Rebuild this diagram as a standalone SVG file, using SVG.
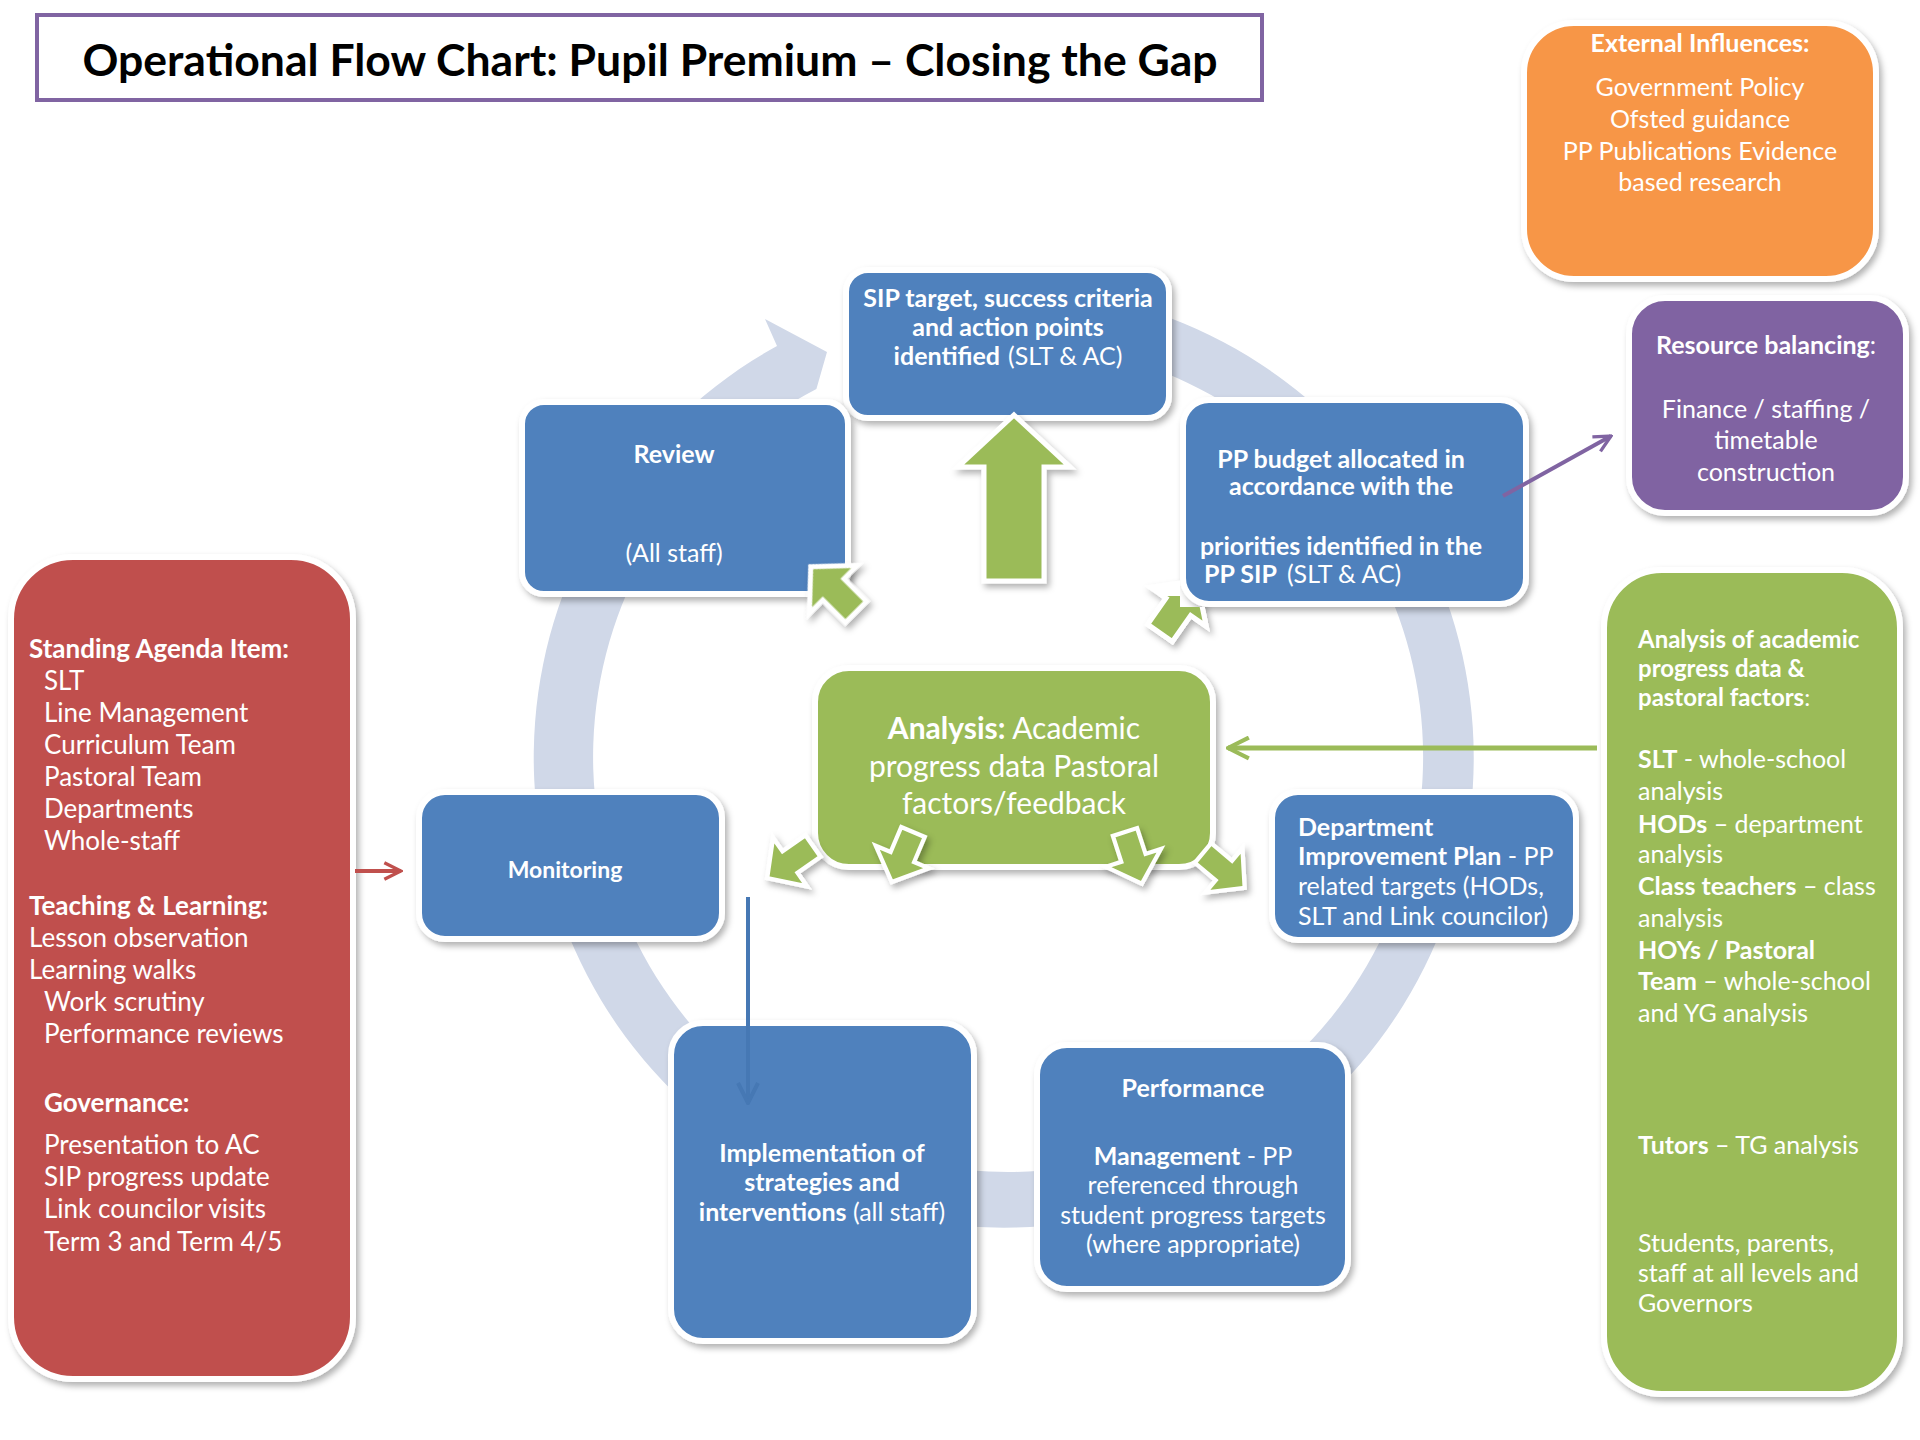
<svg xmlns="http://www.w3.org/2000/svg" width="1920" height="1440" viewBox="0 0 1920 1440">
<style>
text{font-family:Lato,'Open Sans','Liberation Sans',sans-serif;fill:#fff;font-size:25px}
.c{text-anchor:middle}
.b{font-weight:bold}
.box{stroke:#fff;stroke-width:6;filter:url(#sh)}
.blue{fill:#4F81BD}
.grn{fill:#9BBB59}
.red{fill:#C0504D}
.org{fill:#F79646}
.pur{fill:#8064A2}
.blk{fill:#9BBB59;stroke:#fff;stroke-width:5}
.ring{fill:#D0D8E8}
.big{font-size:26px}
</style>
<defs>
<filter id="sh" x="-15%" y="-15%" width="140%" height="140%">
<feDropShadow dx="3" dy="4" stdDeviation="3" flood-color="#000" flood-opacity="0.3"/>
</filter>
<path id="blkArrow" d="M0,-15 L32,-15 L32,-34 L64,0 L32,34 L32,15 L0,15 Z"/>
<marker id="mRed" viewBox="0 0 12 12" refX="11" refY="6" markerWidth="5" markerHeight="5" orient="auto"><path d="M1,1 L11,6 L1,11" fill="none" stroke="#C0504D" stroke-width="2"/></marker>
<marker id="mPur" viewBox="0 0 12 12" refX="11" refY="6" markerWidth="5" markerHeight="5" orient="auto"><path d="M1,1 L11,6 L1,11" fill="none" stroke="#8064A2" stroke-width="2"/></marker>
<marker id="mGrn" viewBox="0 0 12 12" refX="11" refY="6" markerWidth="5" markerHeight="5" orient="auto"><path d="M1,1 L11,6 L1,11" fill="none" stroke="#9BBB59" stroke-width="2"/></marker>
<marker id="mBlu" viewBox="0 0 12 12" refX="11" refY="6" markerWidth="6" markerHeight="6" orient="auto"><path d="M1,1 L11,6 L1,11" fill="none" stroke="#4678B4" stroke-width="2"/></marker>
<clipPath id="outPP"><path clip-rule="evenodd" d="M0,0 H1920 V1440 H0 Z M1180,397 H1529 V607 H1180 Z"/></clipPath>
<clipPath id="lowPP"><rect x="0" y="596" width="1920" height="844"/></clipPath>
</defs>
<rect width="1920" height="1440" fill="#fff"/>

<g id="cycle-ring">
<path class="ring" d="M777,346 L765,319 L827,352 L816.4,388.9 A415,415 0 1 0 935.9,348.3 L926.4,294.1 A470,470 0 1 1 777,346 Z"/>
</g>

<g id="title">
<rect x="37" y="15" width="1225" height="85" fill="#fff" stroke="#8064A2" stroke-width="4"/>
<text x="650" y="76" class="c b" style="font-size:44.5px;fill:#000">Operational Flow Chart: Pupil Premium – Closing the Gap</text>
</g>

<g id="external-influences">
<rect class="box org" x="1524" y="23" width="352" height="256" rx="50"/>
<text class="c"><tspan x="1700" y="52" class="b">External Influences:</tspan><tspan x="1700" y="96">Government Policy</tspan><tspan x="1700" y="128">Ofsted guidance</tspan><tspan x="1700" y="160">PP Publications Evidence</tspan><tspan x="1700" y="191">based research</tspan></text>
</g>

<g id="resource-balancing">
<rect class="box pur" x="1629" y="298" width="277" height="215" rx="36"/>
<text class="c"><tspan x="1766" y="354"><tspan class="b">Resource balancing</tspan>:</tspan><tspan x="1766" y="418">Finance / staffing /</tspan><tspan x="1766" y="449">timetable</tspan><tspan x="1766" y="481">construction</tspan></text>
</g>

<g id="sip-target">
<rect class="box blue" x="846" y="270" width="323" height="148" rx="22"/>
<text class="c"><tspan x="1008" y="307" class="b">SIP target, success criteria</tspan><tspan x="1008" y="336" class="b">and action points</tspan><tspan x="1008" y="365"><tspan class="b">identified</tspan><tspan dx="8">(SLT &amp; AC)</tspan></tspan></text>
</g>

<g id="review">
<rect class="box blue" x="522" y="402" width="326" height="192" rx="22"/>
<text x="674" y="463" class="c b">Review</text>
<text x="674" y="562" class="c">(All staff)</text>
</g>

<g id="pp-budget">
<rect class="box blue" x="1183" y="400" width="343" height="204" rx="26"/>
<text class="c b"><tspan x="1341" y="468">PP budget allocated in</tspan><tspan x="1341" y="495">accordance with the</tspan></text>
<text><tspan x="1341" y="555" class="c b">priorities identified in the</tspan><tspan x="1204" y="583" class="b">PP SIP</tspan><tspan dx="10">(SLT &amp; AC)</tspan></text>
</g>

<g id="monitoring">
<rect class="box blue" x="419" y="792" width="303" height="147" rx="26"/>
<text x="565" y="878" class="c b" style="font-size:23px">Monitoring</text>
</g>

<g id="department-improvement-plan">
<rect class="box blue" x="1272" y="792" width="304" height="148" rx="26"/>
<text><tspan x="1298" y="836" class="b">Department</tspan><tspan x="1298" y="865"><tspan class="b">Improvement Plan</tspan> - PP</tspan><tspan x="1298" y="895">related targets (HODs,</tspan><tspan x="1298" y="925">SLT and Link councilor)</tspan></text>
</g>

<g id="implementation">
<rect class="box blue" x="671" y="1023" width="303" height="318" rx="32"/>
<text class="c"><tspan x="822" y="1162" class="b">Implementation of</tspan><tspan x="822" y="1191" class="b">strategies and</tspan><tspan x="822" y="1221"><tspan class="b">interventions</tspan> (all staff)</tspan></text>
</g>

<g id="performance-management">
<rect class="box blue" x="1037" y="1045" width="311" height="244" rx="30"/>
<text x="1193" y="1097" class="c b">Performance</text>
<text class="c"><tspan x="1193" y="1165"><tspan class="b">Management</tspan> - PP</tspan><tspan x="1193" y="1194">referenced through</tspan><tspan x="1193" y="1224">student progress targets</tspan><tspan x="1193" y="1253">(where appropriate)</tspan></text>
</g>

<g id="analysis">
<rect class="box grn" x="815" y="668" width="398" height="199" rx="34"/>
<text class="c" style="font-size:30px"><tspan x="1014" y="739"><tspan class="b">Analysis:</tspan> Academic</tspan><tspan x="1014" y="777">progress data Pastoral</tspan><tspan x="1014" y="814">factors/feedback</tspan></text>
</g>

<g id="standing-agenda">
<rect class="box red" x="11" y="557" width="342" height="822" rx="62"/>
<text class="big"><tspan x="29" y="658" class="b">Standing Agenda Item:</tspan><tspan x="44" y="690">SLT</tspan><tspan x="44" y="722">Line Management</tspan><tspan x="44" y="754">Curriculum Team</tspan><tspan x="44" y="786">Pastoral Team</tspan><tspan x="44" y="818">Departments</tspan><tspan x="44" y="850">Whole-staff</tspan></text>
<text class="big"><tspan x="29" y="915" class="b">Teaching &amp; Learning:</tspan><tspan x="29" y="947">Lesson observation</tspan><tspan x="29" y="979">Learning walks</tspan><tspan x="44" y="1011">Work scrutiny</tspan><tspan x="44" y="1043">Performance reviews</tspan></text>
<text class="big"><tspan x="44" y="1112" class="b">Governance:</tspan><tspan x="44" y="1154">Presentation to AC</tspan><tspan x="44" y="1186">SIP progress update</tspan><tspan x="44" y="1218">Link councilor visits</tspan><tspan x="44" y="1251">Term 3 and Term 4/5</tspan></text>
</g>

<g id="analysis-sources">
<rect class="box grn" x="1604" y="570" width="296" height="824" rx="58"/>
<text style="font-size:24px"><tspan x="1638" y="648" class="b">Analysis of academic</tspan><tspan x="1638" y="677" class="b">progress data &amp;</tspan><tspan x="1638" y="706"><tspan class="b">pastoral factors</tspan>:</tspan></text>
<text><tspan x="1638" y="768"><tspan class="b">SLT</tspan> - whole-school</tspan><tspan x="1638" y="800">analysis</tspan><tspan x="1638" y="833"><tspan class="b">HODs</tspan> – department</tspan><tspan x="1638" y="863">analysis</tspan><tspan x="1638" y="895"><tspan class="b">Class teachers</tspan> – class</tspan><tspan x="1638" y="927">analysis</tspan><tspan x="1638" y="959" class="b">HOYs / Pastoral</tspan><tspan x="1638" y="990"><tspan class="b">Team</tspan> – whole-school</tspan><tspan x="1638" y="1022">and YG analysis</tspan></text>
<text x="1638" y="1154"><tspan class="b">Tutors</tspan> – TG analysis</text>
<text><tspan x="1638" y="1252">Students, parents,</tspan><tspan x="1638" y="1282">staff at all levels and</tspan><tspan x="1638" y="1312">Governors</tspan></text>
</g>

<g id="connectors">
<g filter="url(#sh)">
<path class="blk" d="M1014,415 L1070,467 L1044,467 L1044,581 L984,581 L984,467 L958,467 Z"/>
<use href="#blkArrow" class="blk" transform="translate(856,612) rotate(-135)"/>
<use href="#blkArrow" class="blk" transform="translate(813,846) rotate(145) scale(0.875)"/>
<use href="#blkArrow" class="blk" transform="translate(913,832) rotate(113) scale(0.85)"/>
<use href="#blkArrow" class="blk" transform="translate(1125,832) rotate(72) scale(0.85)"/>
<use href="#blkArrow" class="blk" transform="translate(1203,853) rotate(40) scale(0.85)"/>
</g>
<g clip-path="url(#outPP)">
<g filter="url(#sh)"><use href="#blkArrow" fill="#fff" stroke="#fff" stroke-width="5" transform="translate(1160,633) rotate(-55)"/></g>
<g clip-path="url(#lowPP)"><use href="#blkArrow" class="blk" transform="translate(1160,633) rotate(-55)"/></g>
</g>
<line x1="355" y1="871" x2="401" y2="871" stroke="#C0504D" stroke-width="4" marker-end="url(#mRed)"/>
<line x1="1503" y1="496" x2="1611" y2="436" stroke="#8064A2" stroke-width="4" marker-end="url(#mPur)"/>
<line x1="1597" y1="748" x2="1228" y2="748" stroke="#9BBB59" stroke-width="5" marker-end="url(#mGrn)"/>
<line x1="748" y1="897" x2="748" y2="1103" stroke="#4678B4" stroke-width="4" marker-end="url(#mBlu)"/>
</g>
</svg>
